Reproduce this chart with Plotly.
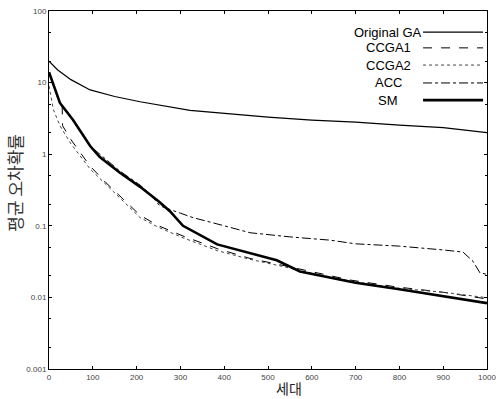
import plotly.graph_objects as go

# ---- data ----
ga_x = [0, 20, 50, 94, 150, 208, 322, 400, 500, 600, 700, 800, 900, 1000]
ga_y = [20, 15, 11, 7.9, 6.4, 5.4, 4.1, 3.7, 3.3, 3.0, 2.8, 2.55, 2.35, 2.0]

ccga1_x = [0, 10, 20, 30, 31, 50, 94, 130, 162, 208, 250, 306, 384, 459, 534, 612, 687, 794, 900, 1000]
ccga1_y = [14, 9, 6.2, 5.0, 2.5, 1.6, 0.68, 0.40, 0.26, 0.14, 0.10, 0.072, 0.048, 0.035, 0.028, 0.022, 0.0175, 0.014, 0.0118, 0.0095]

ccga2_x = [0, 10, 25, 50, 94, 130, 162, 208, 250, 306, 384, 459, 534, 612, 687, 794, 900, 1000]
ccga2_y = [9, 4.2, 2.5, 1.4, 0.62, 0.38, 0.24, 0.13, 0.095, 0.068, 0.045, 0.034, 0.027, 0.021, 0.017, 0.0135, 0.0118, 0.0099]

acc_x = [0, 25, 55, 94, 162, 208, 230, 253, 300, 329, 400, 459, 550, 642, 700, 800, 900, 945, 968, 984, 1000]
acc_y = [14, 5.0, 3.0, 1.3, 0.58, 0.37, 0.28, 0.19, 0.15, 0.13, 0.10, 0.08, 0.07, 0.063, 0.056, 0.052, 0.046, 0.043, 0.032, 0.022, 0.021]

sm_x = [0, 10, 25, 55, 94, 116, 162, 208, 250, 276, 306, 384, 459, 520, 573, 642, 700, 800, 900, 1000]
sm_y = [14, 9.5, 5.2, 3.0, 1.3, 0.91, 0.55, 0.35, 0.22, 0.16, 0.10, 0.055, 0.042, 0.033, 0.023, 0.019, 0.016, 0.013, 0.0105, 0.0083]

series_names = ["Original GA", "CCGA1", "CCGA2", "ACC", "SM"]
x_ticks = [0, 100, 200, 300, 400, 500, 600, 700, 800, 900, 1000]
y_ticks = [0.001, 0.01, 0.1, 1, 10, 100]
y_ticktext = ["0.001", "0.01", "0.1", "1", "10", "100"]
x_title = "세대"
y_title = "평균 오차확률"

styles = [
    dict(color="black", width=1.2, dash="solid"),
    dict(color="black", width=1.0, dash="dash"),
    dict(color="#444444", width=1.0, dash="dot"),
    dict(color="black", width=1.0, dash="dashdot"),
    dict(color="black", width=2.6, dash="solid"),
]

fig = go.Figure()
for name, xs, ys, st in zip(series_names,
                            [ga_x, ccga1_x, ccga2_x, acc_x, sm_x],
                            [ga_y, ccga1_y, ccga2_y, acc_y, sm_y],
                            styles):
    fig.add_trace(go.Scatter(x=xs, y=ys, mode="lines", name=name, line=st,
                             showlegend=False))

# manual legend: text to the left of sample line
rows_y = [0.941, 0.897, 0.849, 0.799, 0.751]
for name, st, ry in zip(series_names, styles, rows_y):
    fig.add_annotation(x=0.774, y=ry, xref="paper", yref="paper", text=name,
                       showarrow=False, xanchor="center", yanchor="middle",
                       font=dict(family="Liberation Sans, Arial", size=13, color="black"))
    fig.add_shape(type="line", xref="paper", yref="paper",
                  x0=0.854, x1=0.991, y0=ry, y1=ry, line=st)

fig.add_annotation(x=0.548, y=-0.053, xref="paper", yref="paper", text=x_title,
                   showarrow=False, xanchor="center", yanchor="middle",
                   font=dict(family="Noto Sans CJK KR", size=14, color="#222"))
fig.add_annotation(x=-0.078, y=0.52, xref="paper", yref="paper", text=y_title,
                   showarrow=False, textangle=-90, xanchor="center", yanchor="middle",
                   font=dict(family="Noto Sans CJK KR", size=17, color="#333"))

axis_common = dict(showline=True, linecolor="black", linewidth=1, mirror="ticks",
                   ticks="inside", ticklen=3, tickcolor="black", showgrid=False,
                   zeroline=False, automargin=False,
                   tickfont=dict(family="Liberation Sans, Arial", size=8, color="#444"))

fig.update_xaxes(range=[0, 1000], tickvals=x_ticks, **axis_common)
fig.update_yaxes(type="log", range=[-3, 2], tickvals=y_ticks, ticktext=y_ticktext,
                 minor=dict(ticks="inside", ticklen=2, tickcolor="black",
                            tickvals=[0.002, 0.005, 0.02, 0.05, 0.2, 0.5, 2, 5, 20, 50]),
                 **axis_common)

fig.update_layout(width=499, height=399, plot_bgcolor="white", paper_bgcolor="white",
                  margin=dict(l=49, r=12, t=11, b=30), showlegend=False)

fig.write_html("out.html", config={"displayModeBar": False},
               post_script="document.body.style.margin='0';document.body.style.overflow='hidden';")
